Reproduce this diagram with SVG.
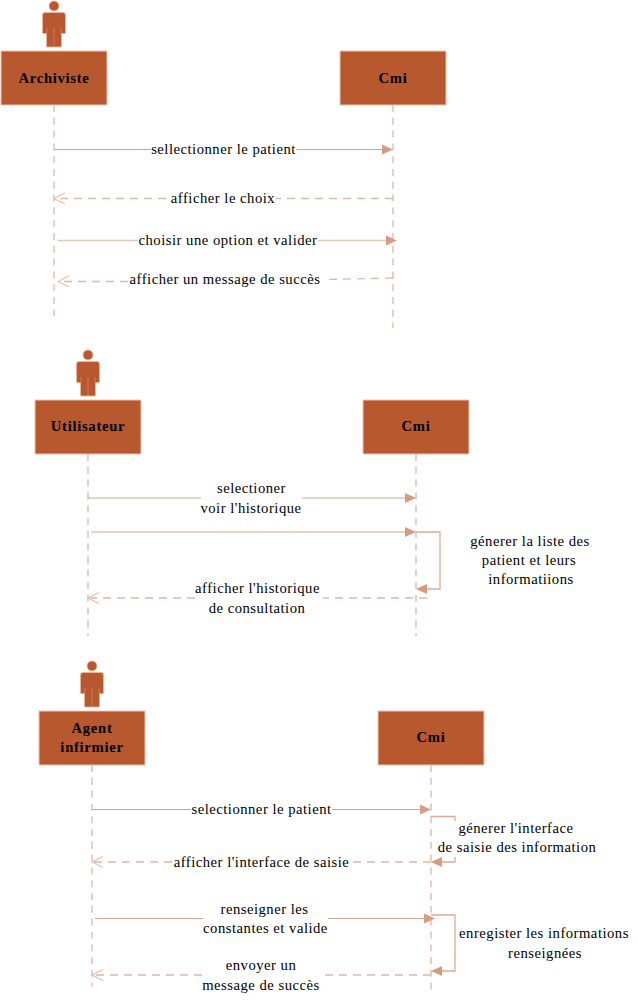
<svg xmlns="http://www.w3.org/2000/svg" width="638" height="1002" viewBox="0 0 638 1002">
<style>
.box{fill:#b8582f;stroke:#f3c3ab;stroke-width:1}
.fig{fill:#b8582f;stroke:#f0b89c;stroke-width:.8}
.life{fill:none;stroke:#dfbcab;stroke-width:1.4;stroke-dasharray:7 5.800}
.msg{fill:none;stroke:#d0a592;stroke-width:1.2}
.pale{fill:none;stroke:#e6c8ba;stroke-width:1.6}
.self{fill:none;stroke:#dfab94;stroke-width:1.3}
.ret{fill:none;stroke:#deb8a7;stroke-width:1.3;stroke-dasharray:8 6}
.open{fill:none;stroke:#e3bfae;stroke-width:1.2}
.head{fill:#d99a7f}
text{font-family:"Liberation Serif","Times New Roman",serif;font-size:14.67px;letter-spacing:.5px;fill:#000;text-anchor:middle}
.t{font-weight:bold;letter-spacing:.7px}
</style>
<defs>
<g id="actor">
<circle cx="0" cy="6" r="5" class="fig"/>
<path class="fig" d="M-9 12.500H9Q11.500 12.500 11.500 15V33.500H7.500V47H-7.500V33.500H-11.500V15Q-11.500 12.500-9 12.500Z"/>
<path d="M-7 28V33M7 28V33M0 28V47" stroke="#d98b68" stroke-width=".7" fill="none"/>
</g>
</defs>
<g id="connectors">
<path class="life" d="M54 105V316"/>
<path class="life" d="M393 105V328"/>
<path class="life" d="M88 454V636"/>
<path class="life" d="M416 454V636"/>
<path class="life" d="M92 765V987"/>
<path class="life" d="M431 765V995"/>

<path class="msg" d="M54 149.500H151M296 149.500H382"/>
<path class="head" d="M393 149.500L382 144.500V154.500Z"/>
<path class="ret" d="M393 198.500H276M166 198.500H56"/>
<path class="open" d="M65 193L54 198.500L65 204"/>
<path class="pale" d="M58 240.500H138M318 240.500H386"/>
<path class="head" d="M397 240.500L386 235.500V245.500Z"/>
<path class="ret" d="M393 278L326 279.500M128 281.500H60"/>
<path class="open" d="M69 276L58 281.500L69 287"/>

<path class="msg" d="M88 498H201M302 498H405"/>
<path class="head" d="M416 498L405 493V503Z"/>
<path class="msg" d="M91 532H405"/>
<path class="head" d="M416 532L405 527V537Z"/>
<path class="self" d="M416 532H440V589H427"/>
<path class="head" d="M416 589L427 584V594Z"/>
<path class="ret" d="M427 598H323M195 598H90"/>
<path class="open" d="M99 592.500L88 598L99 603.500"/>

<path class="msg" d="M92 809.500H191M332 809.500H421"/>
<path class="head" d="M431 809.500L420 804.500V814.500Z"/>
<path class="self" d="M431 816.500H455V821"/>
<path class="self" d="M455 857V862H442"/>
<path class="head" d="M431 862L442 857V867Z"/>
<path class="ret" d="M431 862H351M172 862H94"/>
<path class="open" d="M103 856.500L92 862L103 867.500"/>
<path class="msg" d="M95 918.500H203M328 918.500H425"/>
<path class="head" d="M435 918.500L424 913.500V923.500Z"/>
<path class="self" d="M431 915H455V971H442"/>
<path class="head" d="M431 971L442 966V976Z"/>
<path class="ret" d="M431 975H321M202 975H94"/>
<path class="open" d="M103 969.500L92 975L103 980.500"/>
</g>
<g id="archiviste"><use href="#actor" x="54" y="0"/><rect class="box" x="1" y="51" width="106" height="54"/><text class="t" x="54" y="83">Archiviste</text></g>
<g id="cmi1"><rect class="box" x="340" y="51" width="106" height="54"/><text class="t" x="393" y="83">Cmi</text></g>
<g id="utilisateur"><use href="#actor" x="88" y="349"/><rect class="box" x="35" y="400" width="106" height="54"/><text class="t" x="88" y="431">Utilisateur</text></g>
<g id="cmi2"><rect class="box" x="363" y="400" width="106" height="54"/><text class="t" x="416" y="431">Cmi</text></g>
<g id="agent"><use href="#actor" x="92" y="660"/><rect class="box" x="39" y="711" width="106" height="54"/><text class="t" x="92" y="733">Agent</text><text class="t" x="92" y="752">infirmier</text></g>
<g id="cmi3"><rect class="box" x="378" y="711" width="106" height="54"/><text class="t" x="431" y="742">Cmi</text></g>
<g id="labels">
<text x="223.500" y="154">sellectionner le patient</text>
<text x="223" y="203">afficher le choix</text>
<text x="228" y="245">choisir une option et valider</text>
<text x="225" y="284">afficher un message de succès</text>
<text x="251.500" y="493">selectioner</text>
<text x="251" y="513">voir l'historique</text>
<text x="257.500" y="593">afficher l'historique</text>
<text x="257" y="613">de consultation</text>
<text x="530" y="546">génerer la liste des</text>
<text x="529" y="565">patient et leurs</text>
<text x="531" y="584">informatiions</text>
<text x="261.500" y="814">selectionner le patient</text>
<text x="261.500" y="867">afficher l'interface de saisie</text>
<text x="264.500" y="914">renseigner les</text>
<text x="265.500" y="933">constantes et valide</text>
<text x="261" y="970">envoyer un</text>
<text x="261" y="990">message de succès</text>
<text x="516" y="833">génerer l'interface</text>
<text x="517" y="852">de saisie des information</text>
<text x="544" y="938">enregister les informations</text>
<text x="545" y="958">renseignées</text>
</g>
</svg>
